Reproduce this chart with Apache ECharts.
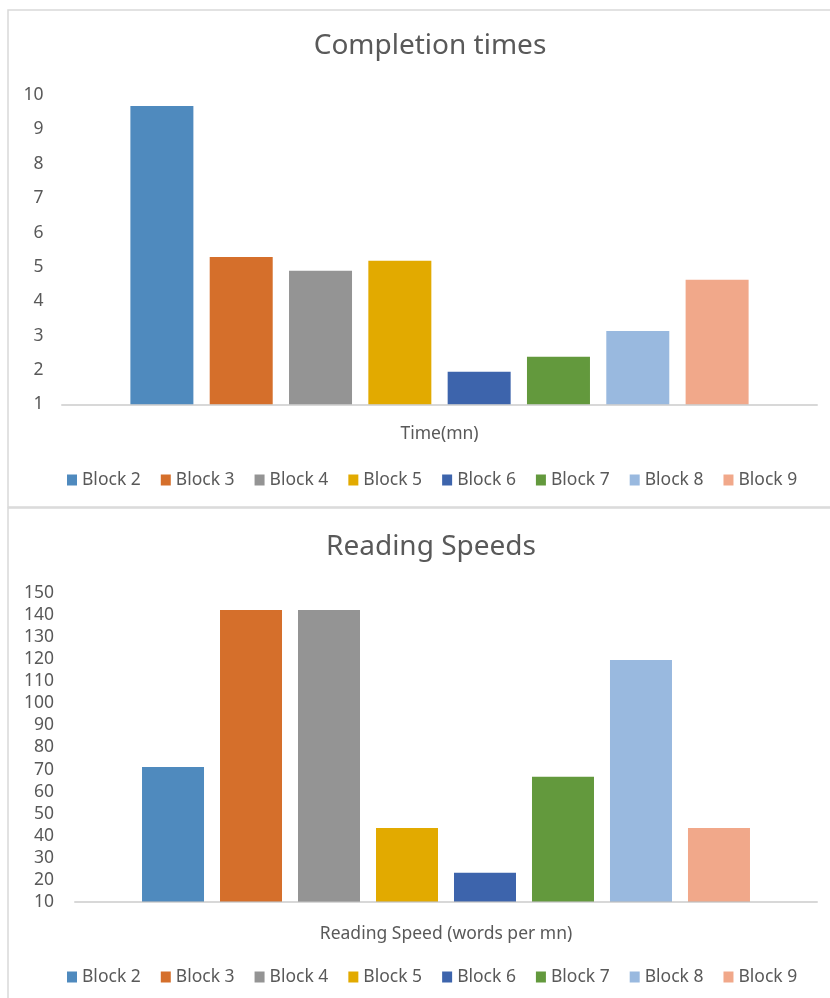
<!DOCTYPE html>
<html>
<head>
<meta charset="utf-8">
<script src="https://cdn.jsdelivr.net/npm/echarts@6/dist/echarts.min.js"></script>
<style>
  html, body { margin: 0; padding: 0; background: #ffffff; }
  #chart { width: 830px; height: 998px; }
</style>
</head>
<body>
<div id="chart"></div>
<script>
// Series names shared by both panels
const blocks = ['Block 2', 'Block 3', 'Block 4', 'Block 5', 'Block 6', 'Block 7', 'Block 8', 'Block 9'];
const blockColors = ['#4F8ABE', '#D56F2B', '#949494', '#E2AA00', '#3D64AC', '#63993D', '#99B9DF', '#F1A88A'];

// Panel 1: completion times in minutes
const timeCategory = ['Time(mn)'];
const completionTimes = [9.68, 5.29, 4.89, 5.18, 1.95, 2.39, 3.14, 4.63];

// Panel 2: reading speeds in words per minute
const speedCategory = ['Reading Speed (words per mn)'];
const readingSpeeds = [71.2, 142.3, 142.3, 43.5, 23.2, 66.7, 119.6, 43.5];

const textColor = '#595959';
const fontFamily = '"Noto Sans", "Open Sans", sans-serif';
const smallFont = 17.5;

const chart = echarts.init(document.getElementById('chart'));

function makeSeries(values, axisIndex, barWidth, barGap) {
  return values.map((v, i) => ({
    name: blocks[i],
    type: 'bar',
    xAxisIndex: axisIndex,
    yAxisIndex: axisIndex,
    data: [v],
    barWidth: barWidth,
    barGap: barGap,
    itemStyle: { color: blockColors[i] },
    emphasis: { disabled: true },
    animation: false
  }));
}

function makeLegend(top) {
  return {
    data: blocks,
    left: 67,
    top: top,
    padding: 0,
    orient: 'horizontal',
    icon: 'rect',
    itemWidth: 10,
    itemHeight: 11,
    itemGap: 20,
    selectedMode: false,
    textStyle: {
      color: textColor,
      fontFamily: fontFamily,
      fontSize: smallFont
    }
  };
}

const axisLineStyle = { color: 'rgba(190,190,190,0.6)', width: 2 };

chart.setOption({
  backgroundColor: '#ffffff',
  animation: false,
  graphic: [
    {
      type: 'rect',
      shape: { x: 8, y: 10, width: 900, height: 497 },
      style: { fill: 'none', stroke: '#d9d9d9', lineWidth: 1.5 },
      silent: true, z: -1
    },
    {
      type: 'rect',
      shape: { x: 8, y: 508, width: 900, height: 520 },
      style: { fill: 'none', stroke: '#d9d9d9', lineWidth: 1.5 },
      silent: true, z: -1
    }
  ],
  title: [
    {
      text: 'Completion times',
      left: 425,
      top: 27.5,
      textAlign: 'center',
      textStyle: { color: textColor, fontFamily: fontFamily, fontSize: 28, fontWeight: 'normal' }
    },
    {
      text: 'Reading Speeds',
      left: 426,
      top: 528.5,
      textAlign: 'center',
      textStyle: { color: textColor, fontFamily: fontFamily, fontSize: 28, fontWeight: 'normal' }
    }
  ],
  legend: [makeLegend(471), makeLegend(968)],
  grid: [
    { left: 62, top: 95, width: 755, height: 309.5, containLabel: false },
    { left: 75, top: 593, width: 742, height: 309, containLabel: false }
  ],
  xAxis: [
    {
      type: 'category',
      gridIndex: 0,
      data: timeCategory,
      z: 10,
      axisLine: { show: true, lineStyle: axisLineStyle },
      axisTick: { show: false },
      axisLabel: { color: textColor, fontFamily: fontFamily, fontSize: smallFont, margin: 21 },
      splitLine: { show: false }
    },
    {
      type: 'category',
      gridIndex: 1,
      data: speedCategory,
      z: 10,
      axisLine: { show: true, lineStyle: axisLineStyle },
      axisTick: { show: false },
      axisLabel: { color: textColor, fontFamily: fontFamily, fontSize: smallFont, margin: 23 },
      splitLine: { show: false }
    }
  ],
  yAxis: [
    {
      type: 'value',
      gridIndex: 0,
      min: 1,
      max: 10,
      interval: 1,
      axisLine: { show: false },
      axisTick: { show: false },
      splitLine: { show: false },
      axisLabel: { color: textColor, fontFamily: fontFamily, fontSize: smallFont, margin: 18.5 }
    },
    {
      type: 'value',
      gridIndex: 1,
      min: 10,
      max: 150,
      interval: 10,
      axisLine: { show: false },
      axisTick: { show: false },
      splitLine: { show: false },
      axisLabel: { color: textColor, fontFamily: fontFamily, fontSize: smallFont, margin: 21 }
    }
  ],
  series: [
    ...makeSeries(completionTimes, 0, 63, '25.9%'),
    ...makeSeries(readingSpeeds, 1, 62, '25.8%')
  ]
});
</script>
</body>
</html>
